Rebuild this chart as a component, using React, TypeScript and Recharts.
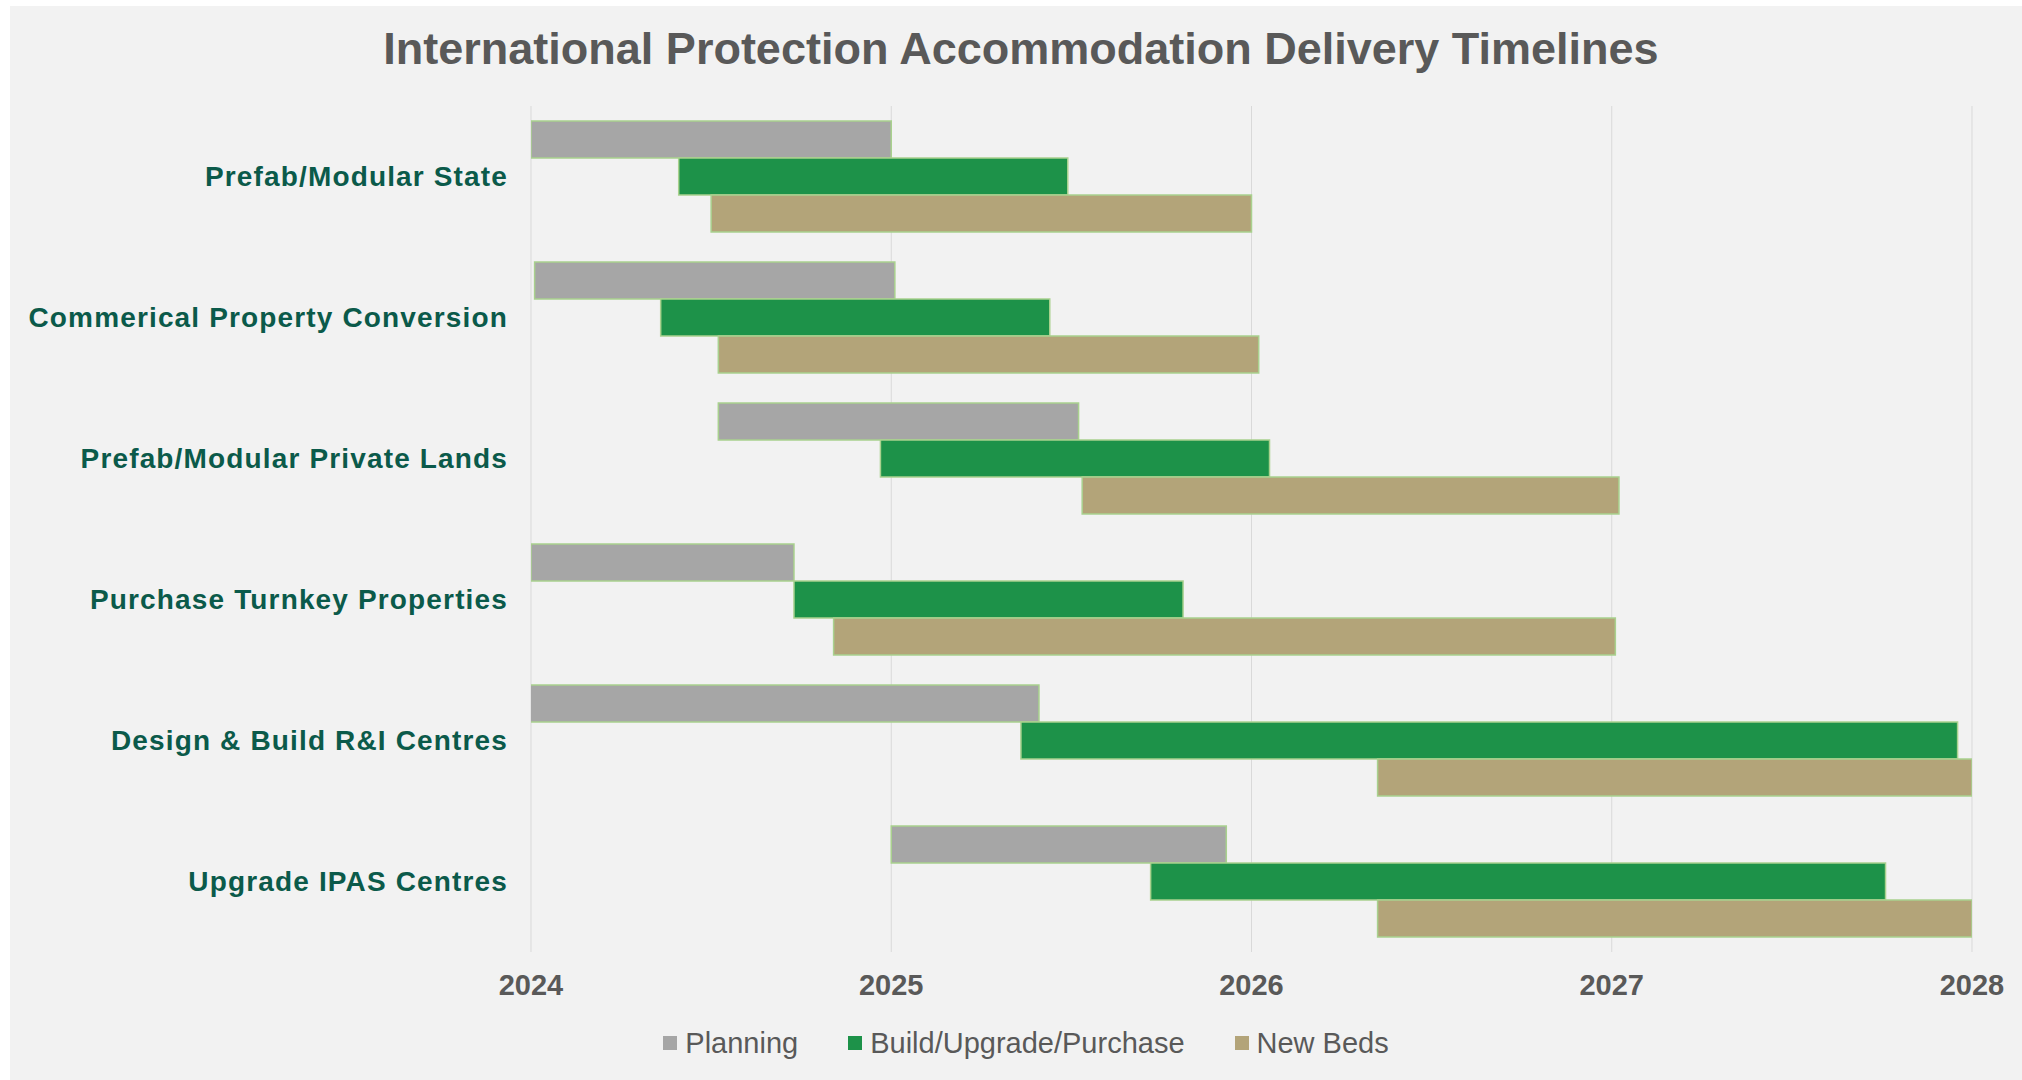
import React from "react";
import {
  BarChart,
  Bar,
  XAxis,
  YAxis,
  CartesianGrid,
  Legend,
} from "recharts";

const categories = [
  "Prefab/Modular State",
  "Commerical Property Conversion",
  "Prefab/Modular Private Lands",
  "Purchase Turnkey Properties",
  "Design & Build R&I Centres",
  "Upgrade IPAS Centres",
];

// start / end of each phase, in fractional years
const planningStart = [2024.0, 2024.01, 2024.52, 2024.0, 2023.98, 2025.0];
const planningEnd = [2025.0, 2025.01, 2025.52, 2024.73, 2025.41, 2025.93];
const buildStart = [2024.41, 2024.36, 2024.97, 2024.73, 2025.36, 2025.72];
const buildEnd = [2025.49, 2025.44, 2026.05, 2025.81, 2027.96, 2027.76];
const bedsStart = [2024.5, 2024.52, 2025.53, 2024.84, 2026.35, 2026.35];
const bedsEnd = [2026.0, 2026.02, 2027.02, 2027.01, 2028.0, 2028.0];

const yearTicks = [2024, 2025, 2026, 2027, 2028];

const series = [
  { key: "planning", name: "Planning", color: "#A6A6A6" },
  { key: "build", name: "Build/Upgrade/Purchase", color: "#1D9249" },
  { key: "beds", name: "New Beds", color: "#B3A479" },
];

const data = categories.map((name, i) => ({
  name,
  planning: [planningStart[i], planningEnd[i]],
  build: [buildStart[i], buildEnd[i]],
  beds: [bedsStart[i], bedsEnd[i]],
}));

const FONT = "'Liberation Sans', Arial, sans-serif";

function LegendContent() {
  return (
    <div
      style={{
        height: 40,
        display: "flex",
        alignItems: "center",
        justifyContent: "center",
        gap: 50,
        paddingLeft: 20,
        fontFamily: FONT,
        fontSize: 29,
        color: "#595959",
      }}
    >
      {series.map((s) => (
        <div key={s.key} style={{ display: "flex", alignItems: "center" }}>
          <span
            style={{
              width: 14,
              height: 14,
              background: s.color,
              marginRight: 8,
              display: "inline-block",
            }}
          />
          <span>{s.name}</span>
        </div>
      ))}
    </div>
  );
}

export default function App() {
  return (
    <div
      style={{
        position: "absolute",
        left: 10,
        top: 6,
        width: 2012,
        height: 1074,
        background: "#F2F2F2",
        fontFamily: FONT,
      }}
    >
      <div
        style={{
          position: "absolute",
          top: 20,
          left: 0,
          width: 2022,
          textAlign: "center",
          fontSize: 45,
          lineHeight: "45px",
          fontWeight: "bold",
          color: "#595959",
        }}
      >
        International Protection Accommodation Delivery Timelines
      </div>
      <BarChart
        width={2012}
        height={1074}
        data={data}
        layout="vertical"
        margin={{ top: 100, right: 50, left: 0, bottom: 17 }}
        barGap={0}
        barSize={37}
      >
        <CartesianGrid horizontal={false} stroke="#D9D9D9" />
        <XAxis
          type="number"
          domain={[2024, 2028]}
          ticks={yearTicks}
          allowDataOverflow
          axisLine={false}
          tickLine={false}
          tickSize={6}
          tickMargin={16}
          height={71}
          tick={{ fill: "#595959", fontSize: 29, fontWeight: "bold" }}
        />
        <YAxis
          type="category"
          dataKey="name"
          width={521}
          axisLine={false}
          tickLine={false}
          tickSize={6}
          tickMargin={17}
          interval={0}
          tick={{
            fill: "#0B5A4A",
            fontSize: 28,
            fontWeight: "bold",
            letterSpacing: 1.15,
          }}
        />
        <Legend
          verticalAlign="bottom"
          wrapperStyle={{ left: 0, width: 2012 }}
          content={() => <LegendContent />}
        />
        {series.map((s) => (
          <Bar
            key={s.key}
            dataKey={s.key}
            name={s.name}
            fill={s.color}
            stroke="#A9D18E"
            strokeWidth={1.5}
            isAnimationActive={false}
          />
        ))}
      </BarChart>
    </div>
  );
}
